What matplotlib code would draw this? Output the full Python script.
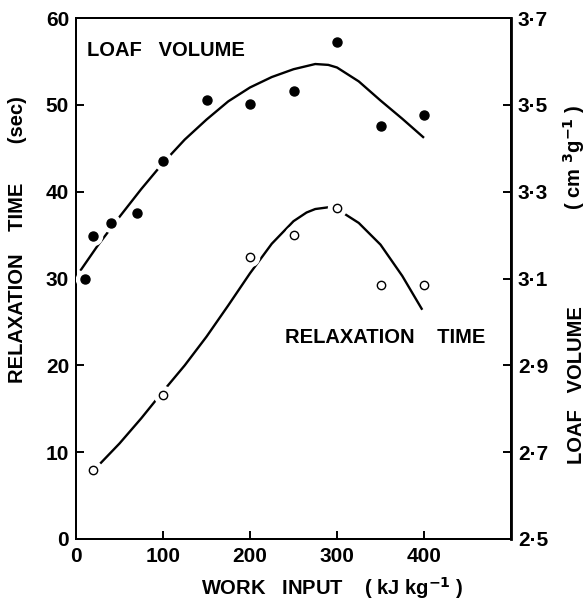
import matplotlib
matplotlib.use('Agg')
import matplotlib.pyplot as plt

plt.rcParams['font.family'] = ['Liberation Sans', 'DejaVu Sans']
plt.rcParams['font.weight'] = 'bold'
plt.rcParams['mathtext.default'] = 'bf'

# measured points
work_loaf = [10, 20, 40, 70, 100, 150, 200, 250, 300, 350, 400]
loaf_volume = [3.100, 3.198, 3.228, 3.250, 3.370, 3.510, 3.502, 3.532, 3.644, 3.452, 3.476]

work_relax = [20, 100, 200, 250, 300, 350, 400]
relax_time = [7.9, 16.6, 32.5, 35.0, 38.1, 29.2, 29.2]

# hand-drawn fitted curves
loaf_curve_x = [5, 25, 50, 75, 100, 125, 150, 175, 200, 225, 250, 275, 290, 300, 325, 350, 375, 400]
loaf_curve_y = [3.118, 3.176, 3.242, 3.306, 3.366, 3.420, 3.466, 3.508, 3.540, 3.564,
                3.582, 3.594, 3.592, 3.586, 3.554, 3.510, 3.468, 3.424]

relax_curve_x = [27, 50, 75, 100, 125, 150, 175, 200, 225, 250, 265, 275, 290, 300, 325, 350, 375, 398]
relax_curve_y = [8.6, 11.0, 13.9, 17.0, 20.0, 23.3, 26.9, 30.6, 34.0, 36.6, 37.6, 38.0,
                 38.2, 38.0, 36.4, 33.9, 30.3, 26.4]

vol_ticks = [2.5, 2.7, 2.9, 3.1, 3.3, 3.5, 3.7]
vol_labels = ['2·5', '2·7', '2·9', '3·1', '3·3', '3·5', '3·7']

W, H = 586, 603
fig = plt.figure(figsize=(W / 100, H / 100), dpi=100)
ax = fig.add_axes([76 / W, 1 - 539 / H, 435 / W, 521 / H])
ax2 = ax.twinx()

ax.set_xlim(0, 500)
ax.set_ylim(0, 60)
ax2.set_ylim(2.5, 3.7)

# relaxation time (left axis); white discs under the markers break the curve
ax.plot(relax_curve_x, relax_curve_y, color='black', lw=1.7, zorder=2, solid_capstyle='butt')
ax.plot(work_relax, relax_time, ls='none', marker='o', ms=14, mfc='white', mec='none', zorder=3)
ax.plot(work_relax, relax_time, ls='none', marker='o', ms=6, mfc='white', mec='black', mew=1.0, zorder=4)

# loaf volume (right axis)
ax2.plot(loaf_curve_x, loaf_curve_y, color='black', lw=1.7, zorder=2, solid_capstyle='butt')
ax2.plot(work_loaf, loaf_volume, ls='none', marker='o', ms=14, mfc='white', mec='none', zorder=3)
ax2.plot(work_loaf, loaf_volume, ls='none', marker='o', ms=6.5, mfc='black', mec='black', zorder=4)

ax.set_xticks([0, 100, 200, 300, 400])
ax.set_yticks([0, 10, 20, 30, 40, 50, 60])
ax2.set_yticks(vol_ticks)
ax2.set_yticklabels(vol_labels)

for a in (ax, ax2):
    a.tick_params(direction='in', length=6, width=1.4, labelsize=15, pad=5)
    for s in a.spines.values():
        s.set_linewidth(1.4)
ax2.spines['right'].set_linewidth(2.0)
ax.tick_params(axis='x', pad=6)


def px_text(x, y, s, **kw):
    fig.text(x / W, 1 - y / H, s, fontsize=14.5, fontweight='bold', **kw)


px_text(87, 56, 'LOAF   VOLUME', va='baseline')
px_text(285, 343, 'RELAXATION    TIME', va='baseline')
px_text(332, 595, 'WORK   INPUT    ( kJ kg$^{-1}$ )', ha='center', va='baseline')
px_text(18, 240, 'RELAXATION    TIME       (sec)', rotation=90, ha='center', va='center')
px_text(576, 385, 'LOAF   VOLUME', rotation=90, ha='center', va='center')
px_text(574, 157, '( cm $^{3}$g$^{-1}$ )', rotation=90, ha='center', va='center')

fig.savefig('out.png', dpi=100)
